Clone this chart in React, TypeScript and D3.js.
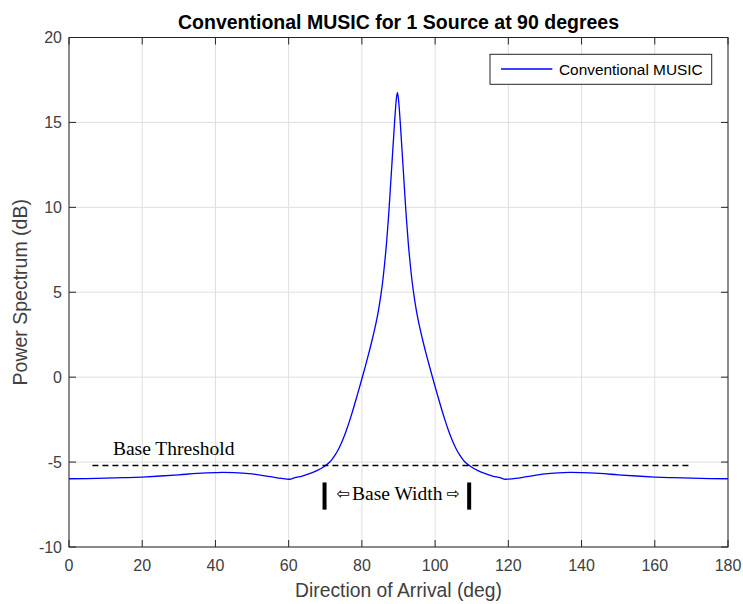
import React from "react";
import * as d3 from "d3";

const doa = [0, 5, 10, 15, 20, 25, 30, 35, 40, 42, 45, 50, 55, 58,
  60.2, 61.7, 63.7, 65.7, 67.7, 69.7, 70.7, 71.7, 72.7, 73.7, 74.7, 75.7, 76.7, 77.7, 78.7, 79.7, 80.7, 81.7, 82.7, 83.7, 84.2, 84.7, 85.2, 85.7, 86.2, 86.7, 87.2, 87.45, 87.7, 88.2, 88.7, 88.95, 89.2, 89.45,
  89.7,
  89.95, 90.2, 90.45, 90.7, 91.2, 91.7, 91.95, 92.2, 92.7, 93.2, 93.7, 94.2, 94.7, 95.2, 95.7, 96.7, 97.7, 98.7, 99.7, 100.7, 101.7, 102.7, 103.7, 104.7, 105.7, 106.7, 107.7, 108.7, 109.7, 111.7, 113.7, 115.7, 117.7, 119.2,
  120, 122, 125, 130, 135, 137, 140, 145, 150, 155, 160, 165, 170, 175, 180];
const power = [-5.98, -5.97, -5.95, -5.92, -5.88, -5.82, -5.75, -5.67, -5.62, -5.61, -5.62, -5.7, -5.86, -5.96,
  -6.01, -5.92, -5.82, -5.68, -5.5, -5.26, -5.1, -4.88, -4.58, -4.2, -3.73, -3.17, -2.53, -1.83, -1.09, -0.33, 0.45, 1.25, 2.1, 3.03, 3.55, 4.15, 4.86, 5.66, 6.68, 7.82, 9.22, 10.0, 10.85, 12.55, 14.25, 15.1, 15.85, 16.45,
  16.75,
  16.45, 15.85, 15.1, 14.25, 12.55, 10.85, 10.0, 9.22, 7.82, 6.68, 5.66, 4.86, 4.15, 3.55, 3.03, 2.1, 1.25, 0.45, -0.33, -1.09, -1.83, -2.53, -3.17, -3.73, -4.2, -4.58, -4.88, -5.1, -5.26, -5.5, -5.68, -5.82, -5.92, -6.01,
  -6.0, -5.96, -5.86, -5.7, -5.62, -5.61, -5.62, -5.67, -5.75, -5.82, -5.88, -5.92, -5.95, -5.97, -5.98];

const xTicks = [0, 20, 40, 60, 80, 100, 120, 140, 160, 180];
const yTicks = [-10, -5, 0, 5, 10, 15, 20];

const thresholdX = [6.4, 169.2];
const thresholdY = -5.2;
const baseWidthX = [69.8, 109.3];
const baseWidthY = [-6.2, -7.8];

const titleText = "Conventional MUSIC for 1 Source at 90 degrees";
const xLabel = "Direction of Arrival (deg)";
const yLabel = "Power Spectrum (dB)";
const legendLabel = "Conventional MUSIC";

export default function App() {
  const W = 743, H = 604;
  const L = 69, R = 728, T = 37.5, B = 547;
  const x = d3.scaleLinear().domain([0, 180]).range([L, R]);
  const y = d3.scaleLinear().domain([-10, 20]).range([B, T]);
  const pts = doa.map((d, i) => [d, power[i]] as [number, number]);
  const line = d3.line<[number, number]>().x(d => x(d[0])).y(d => y(d[1])).curve(d3.curveMonotoneX);
  const sans = "'Liberation Sans', Arial, sans-serif";
  const serif = "'Liberation Serif', 'Times New Roman', serif";
  const axisColor = "#262626";
  const tickLen = 7;
  return (
    <svg width={W} height={H} style={{ position: "absolute", left: 0, top: 0, background: "#fff" }}>
      <rect x={0} y={0} width={W} height={H} fill="#fff" />
      {xTicks.map(t => (
        <line key={"gx" + t} x1={x(t)} x2={x(t)} y1={T} y2={B} stroke="#dfdfdf" strokeWidth={1} />
      ))}
      {yTicks.map(t => (
        <line key={"gy" + t} x1={L} x2={R} y1={y(t)} y2={y(t)} stroke="#dfdfdf" strokeWidth={1} />
      ))}
      <path d={line(pts) || ""} fill="none" stroke="#0000ff" strokeWidth={1.3} />
      <line x1={x(thresholdX[0])} x2={x(thresholdX[1])} y1={y(thresholdY)} y2={y(thresholdY)} stroke="#000" strokeWidth={1.3} strokeDasharray="6,4" />
      <text x={x(12)} y={y(-4.58)} fontFamily={serif} fontSize={19.5} fill="#000">Base Threshold</text>
      {baseWidthX.map((bx, i) => (
        <rect key={"bw" + i} x={x(bx) - 2} y={y(baseWidthY[0])} width={4} height={y(baseWidthY[1]) - y(baseWidthY[0])} fill="#000" />
      ))}
      <text x={x(73.0)} y={y(-7.15)} fontFamily="'DejaVu Sans', sans-serif" fontSize={16} fill="#000">⇦</text>
      <text x={x(77.3)} y={y(-7.25)} fontFamily={serif} fontSize={19.5} fill="#000">Base Width</text>
      <text x={x(103.2)} y={y(-7.15)} fontFamily="'DejaVu Sans', sans-serif" fontSize={16} fill="#000">⇨</text>
      <rect x={L} y={T} width={R - L} height={B - T} fill="none" stroke={axisColor} strokeWidth={1} />
      {xTicks.map(t => (
        <g key={"tx" + t}>
          <line x1={x(t)} x2={x(t)} y1={B} y2={B - tickLen} stroke={axisColor} />
          <line x1={x(t)} x2={x(t)} y1={T} y2={T + tickLen} stroke={axisColor} />
          <text x={x(t)} y={B + 23.5} textAnchor="middle" fontFamily={sans} fontSize={16} fill="#404040">{t}</text>
        </g>
      ))}
      {yTicks.map(t => (
        <g key={"ty" + t}>
          <line x1={L} x2={L + tickLen} y1={y(t)} y2={y(t)} stroke={axisColor} />
          <line x1={R} x2={R - tickLen} y1={y(t)} y2={y(t)} stroke={axisColor} />
          <text x={62} y={y(t) + 5.8} textAnchor="end" fontFamily={sans} fontSize={16} fill="#404040">{t}</text>
        </g>
      ))}
      <text x={(L + R) / 2} y={29} textAnchor="middle" fontFamily={sans} fontWeight="bold" fontSize={19.5} fill="#000">{titleText}</text>
      <text x={(L + R) / 2} y={597} textAnchor="middle" fontFamily={sans} fontSize={19.3} fill="#404040">{xLabel}</text>
      <text transform={`translate(27,${(T + B) / 2}) rotate(-90)`} textAnchor="middle" fontFamily={sans} fontSize={19.5} fill="#404040">{yLabel}</text>
      <rect x={490} y={54.3} width={221.7} height={30} fill="#fff" stroke={axisColor} strokeWidth={1} />
      <line x1={501} x2={552.3} y1={69} y2={69} stroke="#0000ff" strokeWidth={1.3} />
      <text x={559} y={74.8} fontFamily={sans} fontSize={15.4} fill="#000">{legendLabel}</text>
    </svg>
  );
}
